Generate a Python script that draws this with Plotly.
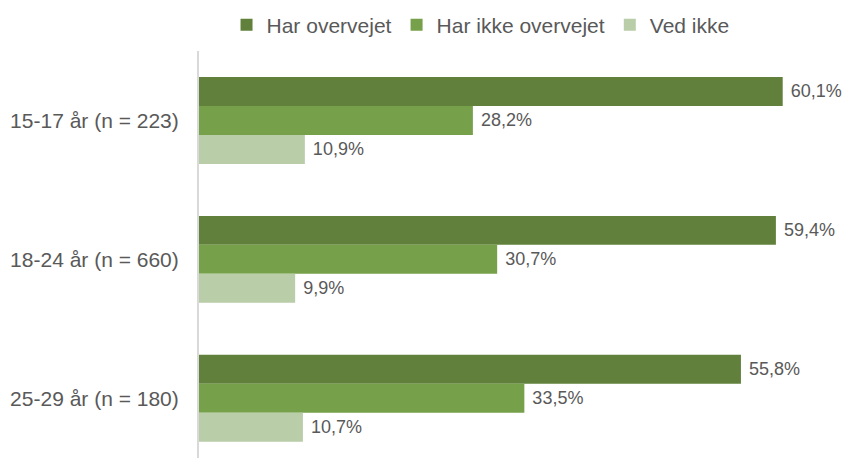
import plotly.graph_objects as go

# data
categories = ["15-17 år (n = 223)", "18-24 år (n = 660)", "25-29 år (n = 180)"]
series_names = ["Har overvejet", "Har ikke overvejet", "Ved ikke"]
har_overvejet = [60.1, 59.4, 55.8]
har_ikke_overvejet = [28.2, 30.7, 33.5]
ved_ikke = [10.9, 9.9, 10.7]

colors = ["#61803B", "#76A04A", "#B9CDA9"]
font_color = "#595959"


def main():
    fig = go.Figure()
    for name, vals, col in zip(series_names, [har_overvejet, har_ikke_overvejet, ved_ikke], colors):
        fig.add_trace(go.Bar(
            y=categories, x=vals, name=name, orientation="h",
            marker=dict(color=col, line=dict(width=0)),
            texttemplate=" %{x:.1f}%", textposition="outside",
            textfont=dict(size=18, color=font_color),
            cliponaxis=False, hoverinfo="skip",
        ))

    fig.update_layout(
        width=846, height=458,
        barmode="group", bargap=0.374, bargroupgap=0,
        separators=",.",
        plot_bgcolor="white", paper_bgcolor="white",
        font=dict(family="Liberation Sans, Arial", size=21, color=font_color),
        margin=dict(l=199, r=6, t=51, b=0, autoexpand=False),
        showlegend=True,
        legend=dict(orientation="h", xref="container", yref="container",
                    x=0.568, xanchor="center", y=0.99, yanchor="top",
                    font=dict(size=21, color=font_color), traceorder="normal",
                    itemwidth=30),
    )
    fig.update_xaxes(range=[0, 66], visible=False, showgrid=False, zeroline=False,
                     automargin=False)
    fig.update_yaxes(categoryorder="array", categoryarray=categories,
                     range=[2.43, -0.5], showgrid=False, zeroline=False,
                     showline=True, linecolor="#D9D9D9", linewidth=2,
                     ticks="", ticklabelstandoff=14, automargin=False,
                     tickfont=dict(size=21, color=font_color))
    # the page body has an 8px default margin; drop it so the chart sits at 0,0
    fig.write_html("out.html", config={"displayModeBar": False},
                   post_script="document.body.style.margin='0';")


if __name__ == "__main__":
    main()
